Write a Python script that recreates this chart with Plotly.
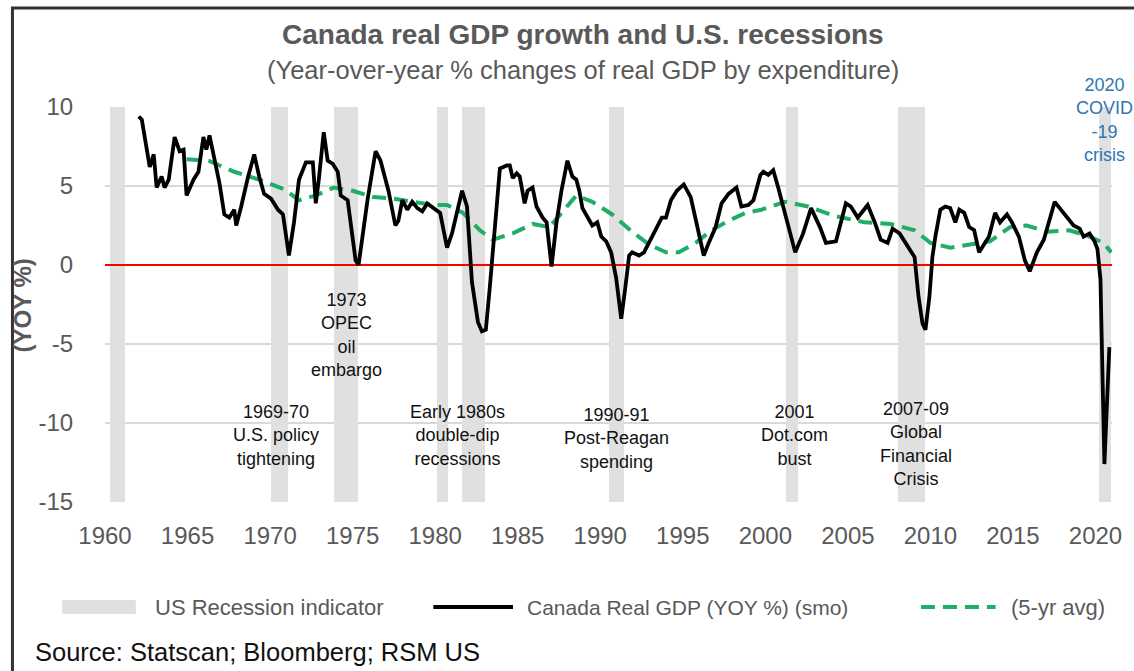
import plotly.graph_objects as go

# ---------------- data ----------------
gdp_years = [1962.05, 1962.23, 1962.71, 1962.95, 1963.13, 1963.43, 1963.61, 1963.86, 1964.22, 1964.52,
             1964.76, 1964.94, 1965.36, 1965.66, 1965.96, 1966.14, 1966.33, 1966.63, 1966.93, 1967.23,
             1967.53, 1967.83, 1967.95, 1968.25, 1968.67, 1969.04, 1969.34, 1969.64, 1970.06, 1970.48,
             1970.78, 1971.14, 1971.45, 1971.75, 1972.17, 1972.59, 1972.77, 1972.95, 1973.25, 1973.49,
             1973.80, 1974.10, 1974.28, 1974.70, 1975.18, 1975.36, 1975.90, 1976.39, 1976.69, 1977.17,
             1977.59, 1977.77, 1978.01, 1978.31, 1978.61, 1978.92, 1979.22, 1979.52, 1979.88, 1980.30,
             1980.72, 1981.02, 1981.63, 1981.93, 1982.23, 1982.59, 1982.83, 1983.07, 1983.31, 1983.61,
             1983.92, 1984.34, 1984.52, 1984.70, 1984.94, 1985.12, 1985.42, 1985.60, 1985.90, 1986.14,
             1986.33, 1986.51, 1986.75, 1987.05, 1987.35, 1987.65, 1988.01, 1988.31, 1988.55, 1988.73,
             1988.92, 1989.22, 1989.52, 1989.82, 1990.06, 1990.36, 1990.66, 1990.96, 1991.14, 1991.27,
             1991.51, 1991.75, 1991.93, 1992.35, 1992.65, 1992.95, 1993.37, 1993.73, 1993.98, 1994.28,
             1994.64, 1995.06, 1995.48, 1995.78, 1996.27, 1996.57, 1996.99, 1997.35, 1997.77, 1998.25,
             1998.55, 1998.98, 1999.28, 1999.70, 1999.88, 2000.18, 2000.48, 2000.78, 2001.27, 2001.81,
             2002.29, 2002.77, 2003.31, 2003.67, 2004.28, 2004.58, 2004.88, 2005.18, 2005.60, 2005.90,
             2006.20, 2006.63, 2006.99, 2007.41, 2007.71, 2008.13, 2008.43, 2008.73, 2009.04, 2009.28,
             2009.52, 2009.70, 2009.94, 2010.12, 2010.30, 2010.60, 2010.90, 2011.20, 2011.51, 2011.75,
             2012.05, 2012.35, 2012.65, 2012.95, 2013.13, 2013.55, 2013.92, 2014.22, 2014.64, 2014.94,
             2015.36, 2015.72, 2016.02, 2016.33, 2016.45, 2016.87, 2017.23, 2017.53, 2017.83, 2018.25,
             2018.67, 2019.04, 2019.28, 2019.64, 2019.94, 2020.12, 2020.30, 2020.54, 2020.84]
gdp_yoy = [9.4, 9.2, 6.2, 7.0, 4.9, 5.6, 4.9, 5.4, 8.1, 7.2,
           7.3, 4.4, 5.4, 5.9, 8.1, 7.3, 8.2, 6.8, 5.2, 3.2,
           3.0, 3.5, 2.5, 3.7, 5.6, 7.0, 5.6, 4.5, 4.2, 3.5,
           3.2, 0.6, 2.7, 5.4, 6.5, 6.5, 3.9, 5.4, 8.4, 6.6,
           6.4, 5.9, 4.4, 4.1, 0.3, 0.0, 4.1, 7.2, 6.6, 4.7,
           2.5, 2.8, 4.1, 3.5, 4.0, 3.6, 3.4, 3.9, 3.6, 3.3,
           1.1, 2.0, 4.7, 3.7, -1.1, -3.6, -4.2, -4.1, -1.4, 2.0,
           6.1, 6.3, 6.3, 5.5, 5.8, 5.6, 3.9, 4.7, 4.9, 3.7,
           3.3, 3.0, 2.7, -0.1, 2.7, 4.7, 6.6, 5.6, 5.4, 4.7,
           3.6, 3.0, 2.5, 2.7, 1.8, 1.5, 0.8, -0.8, -2.5, -3.4,
           -1.5, 0.6, 0.8, 0.6, 0.8, 1.4, 2.2, 3.0, 3.0, 4.1,
           4.7, 5.1, 4.3, 2.8, 0.6, 1.4, 2.4, 3.9, 4.5, 4.9,
           3.7, 3.8, 4.1, 5.7, 5.9, 5.7, 6.0, 4.9, 3.0, 0.8,
           2.0, 3.6, 2.4, 1.4, 1.5, 2.8, 3.9, 3.7, 3.0, 3.4,
           3.8, 2.7, 1.6, 1.4, 2.3, 2.0, 1.5, 1.1, 0.5, -2.0,
           -3.7, -4.1, -2.0, 0.5, 1.8, 3.5, 3.7, 3.6, 2.7, 3.5,
           3.3, 2.4, 2.2, 0.8, 1.1, 1.8, 3.3, 2.7, 3.2, 2.7,
           1.8, 0.3, -0.4, 0.5, 0.8, 1.6, 2.8, 4.0, 3.6, 3.0,
           2.5, 2.3, 1.8, 2.0, 1.5, 1.0, -0.9, -12.6, -5.2]

avg_years = [1964.94, 1966.27, 1967.83, 1969.34, 1970.84, 1971.75, 1972.77, 1973.86, 1975.00, 1976.27,
             1977.47, 1978.67, 1979.88, 1980.72, 1981.69, 1982.71, 1983.49, 1984.70, 1985.90, 1986.93,
             1987.71, 1988.55, 1989.52, 1990.72, 1991.93, 1992.95, 1993.98, 1994.76, 1995.78, 1996.75,
             1997.77, 1998.80, 1999.76, 2001.20, 2002.59, 2004.22, 2006.02, 2007.59, 2009.04, 2010.00,
             2011.20, 2012.41, 2013.61, 2014.82, 2015.84, 2017.05, 2018.43, 2019.64, 2020.48, 2020.96]
avg_5yr = [6.7, 6.6, 5.9, 5.4, 4.8, 4.1, 4.4, 4.9, 4.7, 4.3,
           4.2, 4.0, 3.8, 3.8, 3.3, 2.2, 1.6, 2.0, 2.6, 2.4,
           3.4, 4.4, 4.0, 3.2, 2.1, 1.3, 0.8, 0.8, 1.4, 2.2,
           2.8, 3.3, 3.5, 4.0, 3.7, 3.1, 2.7, 2.6, 2.2, 1.4,
           1.1, 1.3, 1.5, 2.4, 2.5, 2.1, 2.2, 1.8, 1.4, 0.8]

rec_start = [1960.30, 1970.06, 1973.86, 1980.12, 1981.63, 1990.54, 2001.27, 2008.01, 2020.24]
rec_end = [1961.20, 1971.08, 1975.30, 1980.78, 1983.01, 1991.45, 2001.99, 2009.70, 2020.96]

events = ["1969-70<br>U.S. policy<br>tightening",
          "1973<br>OPEC<br>oil<br>embargo",
          "Early 1980s<br>double-dip<br>recessions",
          "1990-91<br>Post-Reagan<br>spending",
          "2001<br>Dot.com<br>bust",
          "2007-09<br>Global<br>Financial<br>Crisis"]
event_x = [1970.36, 1974.64, 1981.33, 1990.96, 2001.75, 2009.10]
event_y = [-10.76, -4.43, -10.76, -10.95, -10.80, -11.36]

covid_text = "2020<br>COVID<br>-19<br>crisis"
covid_x = 2020.54
covid_y = 9.2

x_ticks = list(range(1960, 2021, 5))
y_ticks = [-15, -10, -5, 0, 5, 10]
y_tick_text = ["-15", "-10", "-5", "0", "5", "10"]
x_range = [1960, 2021]
y_range = [-15, 10]

# ---------------- figure ----------------
FONT = "Arial, 'Liberation Sans', sans-serif"
GRAY = "#595959"
GREEN = "#1fae68"
BAND = "#e0e0e0"

fig = go.Figure()

band_x = [(s + e) / 2 for s, e in zip(rec_start, rec_end)]
band_w = [e - s for s, e in zip(rec_start, rec_end)]
fig.add_trace(go.Bar(x=band_x, y=[y_range[1] - y_range[0]] * len(band_x), base=y_range[0],
                     width=band_w, marker=dict(color=BAND, line=dict(width=0)),
                     showlegend=False, hoverinfo="skip", name="US Recession indicator"))

fig.add_trace(go.Scatter(x=x_range, y=[0, 0], mode="lines",
                         line=dict(color="#ff0000", width=2), showlegend=False, hoverinfo="skip"))

fig.add_trace(go.Scatter(x=avg_years, y=avg_5yr, mode="lines", name="(5-yr avg)",
                         line=dict(color=GREEN, width=4, dash="14px,8px"), showlegend=False))

fig.add_trace(go.Scatter(x=gdp_years, y=gdp_yoy, mode="lines", name="Canada Real GDP (YOY %) (smo)",
                         line=dict(color="black", width=3.8), showlegend=False))

L, R, T, B = 105, 17, 107, 169
W, H = 1134, 671
PW, PH = W - L - R, H - T - B


def px(xp):
    return (xp - L) / PW


def py(yp):
    return (H - B - yp) / PH


annotations = []
for t, xv, yv in zip(events, event_x, event_y):
    annotations.append(dict(x=xv, y=yv, xref="x", yref="y", text=t, showarrow=False,
                            font=dict(family=FONT, size=18, color="#111111"),
                            xanchor="center", yanchor="middle", align="center"))
annotations.append(dict(x=covid_x, y=covid_y, xref="x", yref="y", text=covid_text, showarrow=False,
                        font=dict(family=FONT, size=18, color="#2e75b6"),
                        xanchor="center", yanchor="middle", align="center"))

# titles
annotations.append(dict(x=px(585), y=py(35), xref="paper", yref="paper", showarrow=False,
                        text="<b>Canada real GDP growth and U.S. recessions</b>",
                        font=dict(family=FONT, size=28, color=GRAY), xanchor="center", yanchor="middle"))
annotations.append(dict(x=px(585), y=py(70), xref="paper", yref="paper", showarrow=False,
                        text="(Year-over-year % changes of real GDP by expenditure)",
                        font=dict(family=FONT, size=25.5, color=GRAY), xanchor="center", yanchor="middle"))
# y axis title
annotations.append(dict(x=px(22), y=py(305), xref="paper", yref="paper", showarrow=False,
                        text="<b>(YOY %)</b>", textangle=-90,
                        font=dict(family=FONT, size=24, color=GRAY), xanchor="center", yanchor="middle"))
# legend texts
leg_y = py(607)
annotations.append(dict(x=px(153), y=leg_y, xref="paper", yref="paper", showarrow=False,
                        text="US Recession indicator", font=dict(family=FONT, size=22, color=GRAY),
                        xanchor="left", yanchor="middle"))
annotations.append(dict(x=px(527), y=leg_y, xref="paper", yref="paper", showarrow=False,
                        text="Canada Real GDP (YOY %) (smo)", font=dict(family=FONT, size=21, color=GRAY),
                        xanchor="left", yanchor="middle"))
annotations.append(dict(x=px(1013), y=leg_y, xref="paper", yref="paper", showarrow=False,
                        text="(5-yr avg)", font=dict(family=FONT, size=22, color=GRAY),
                        xanchor="left", yanchor="middle"))
# source
annotations.append(dict(x=px(33), y=py(652), xref="paper", yref="paper", showarrow=False,
                        text="Source: Statscan; Bloomberg; RSM US", font=dict(family=FONT, size=25.5, color="#111111"),
                        xanchor="left", yanchor="middle"))

shapes = [
    # outer frame
    dict(type="rect", xref="paper", yref="paper", x0=px(12), x1=px(1150), y0=py(8), y1=py(700),
         line=dict(color="#333333", width=3), fillcolor="rgba(0,0,0,0)", layer="above"),
    # legend symbols
    dict(type="rect", xref="paper", yref="paper", x0=px(62), x1=px(136), y0=py(600), y1=py(614),
         line=dict(width=0), fillcolor=BAND),
    dict(type="line", xref="paper", yref="paper", x0=px(435), x1=px(515), y0=leg_y, y1=leg_y,
         line=dict(color="black", width=4)),
    dict(type="line", xref="paper", yref="paper", x0=px(925), x1=px(1000), y0=leg_y, y1=leg_y,
         line=dict(color=GREEN, width=4, dash="14px,8px")),
]

fig.update_layout(
    width=W, height=H,
    margin=dict(l=L, r=R, t=T, b=B, pad=0),
    paper_bgcolor="white", plot_bgcolor="white",
    showlegend=False,
    font=dict(family=FONT, color=GRAY),
    annotations=annotations,
    shapes=shapes,
    bargap=0,
    xaxis=dict(range=x_range, tickvals=x_ticks, showgrid=False, zeroline=False, showline=False,
               ticks="outside", ticklen=12, tickcolor="rgba(0,0,0,0)",
               tickfont=dict(family=FONT, size=24, color=GRAY)),
    yaxis=dict(range=y_range, tickvals=y_ticks, ticktext=y_tick_text, showgrid=True,
               gridcolor="#d9d9d9", gridwidth=2, zeroline=False, showline=False,
               ticks="outside", ticklen=26, tickcolor="rgba(0,0,0,0)",
               tickfont=dict(family=FONT, size=24, color=GRAY)),
)

fig.write_html("out.html")
